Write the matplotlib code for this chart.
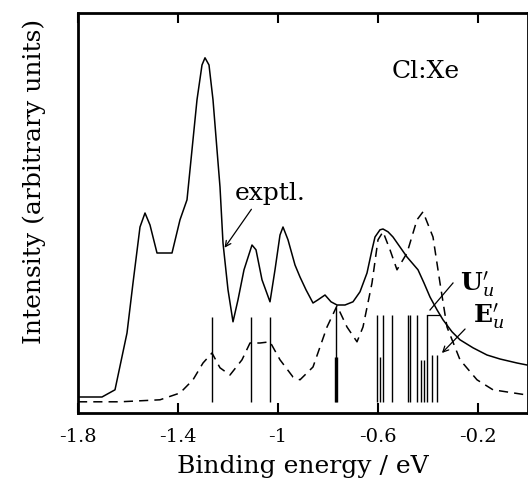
import matplotlib
matplotlib.use("Agg")
import matplotlib.pyplot as plt

plt.rcParams['font.family'] = ['DejaVu Serif']
plt.rcParams['mathtext.fontset'] = 'dejavuserif'

# experimental spectrum (solid)
expt_e = [-1.800, -1.704, -1.652, -1.604, -1.580, -1.552, -1.532, -1.512, -1.484, -1.424,
          -1.392, -1.364, -1.344, -1.324, -1.304, -1.292, -1.276, -1.260, -1.244, -1.232,
          -1.220, -1.200, -1.180, -1.160, -1.136, -1.104, -1.088, -1.064, -1.032, -1.012,
          -0.992, -0.980, -0.960, -0.932, -0.912, -0.888, -0.860, -0.840, -0.812, -0.788,
          -0.764, -0.732, -0.700, -0.672, -0.644, -0.624, -0.612, -0.592, -0.580, -0.560,
          -0.540, -0.512, -0.484, -0.440, -0.416, -0.392, -0.364, -0.340, -0.304, -0.272,
          -0.220, -0.164, -0.112, -0.044, -0.004]
expt_i = [0.040, 0.040, 0.058, 0.200, 0.325, 0.465, 0.500, 0.470, 0.400, 0.400,
          0.483, 0.533, 0.658, 0.783, 0.870, 0.888, 0.870, 0.783, 0.658, 0.565,
          0.425, 0.308, 0.228, 0.283, 0.358, 0.420, 0.408, 0.333, 0.278, 0.358,
          0.445, 0.465, 0.433, 0.370, 0.340, 0.308, 0.275, 0.283, 0.295, 0.278,
          0.270, 0.270, 0.278, 0.303, 0.350, 0.408, 0.440, 0.458, 0.460, 0.453,
          0.440, 0.415, 0.390, 0.358, 0.325, 0.290, 0.258, 0.233, 0.203, 0.183,
          0.163, 0.145, 0.135, 0.125, 0.120]

# calculated spectrum (dashed)
calc_e = [-1.800, -1.632, -1.472, -1.392, -1.340, -1.300, -1.264, -1.232, -1.192, -1.144,
          -1.112, -1.072, -1.032, -0.992, -0.940, -0.912, -0.860, -0.804, -0.764, -0.724,
          -0.684, -0.660, -0.624, -0.600, -0.580, -0.552, -0.524, -0.484, -0.444, -0.420,
          -0.380, -0.352, -0.324, -0.272, -0.204, -0.140, -0.004]
calc_i = [0.028, 0.028, 0.033, 0.050, 0.083, 0.125, 0.150, 0.113, 0.095, 0.133,
          0.175, 0.175, 0.178, 0.133, 0.090, 0.083, 0.115, 0.215, 0.268, 0.215,
          0.178, 0.215, 0.325, 0.433, 0.453, 0.408, 0.358, 0.400, 0.483, 0.503,
          0.440, 0.325, 0.215, 0.133, 0.083, 0.058, 0.045]

# stick spectrum
stick_e = [-1.264, -1.108, -1.032, -0.772, -0.768, -0.764, -0.604, -0.592, -0.580,
           -0.544, -0.480, -0.472, -0.444, -0.428, -0.416, -0.404, -0.384, -0.364]
stick_h = [0.240, 0.240, 0.240, 0.140, 0.265, 0.140, 0.245, 0.140, 0.245,
           0.245, 0.245, 0.245, 0.245, 0.133, 0.133, 0.245, 0.145, 0.145]
stick_base = 0.028

xticks = [-1.8, -1.4, -1.0, -0.6, -0.2]
xtick_labels = ['-1.8', '-1.4', '-1', '-0.6', '-0.2']

fig = plt.figure(figsize=(5.28, 4.9), dpi=100)
ax = fig.add_axes([78 / 528, 77 / 490, 450 / 528, 400 / 490])

ax.plot(expt_e, expt_i, color='black', lw=1.1)
ax.plot(calc_e, calc_i, color='black', lw=1.1, linestyle=(0, (6, 4)))
ax.vlines(stick_e, stick_base, stick_h, color='black', lw=1.0)

ax.set_xlim(-1.8, 0.0)
ax.set_ylim(0, 1)
ax.set_xticks(xticks)
ax.set_xticklabels(xtick_labels, fontsize=14)
ax.set_yticks([])
ax.tick_params(axis='x', direction='in', top=True, length=7, width=1.5, pad=11)
for s in ax.spines.values():
    s.set_linewidth(2.0)

ax.set_xlabel('Binding energy / eV', fontsize=18, labelpad=6)
ax.set_ylabel('Intensity (arbitrary units)', fontsize=18)
ax.yaxis.set_label_coords(-0.072, 0.58)

ax.text(-0.545, 0.8375, 'Cl:Xe', fontsize=18)
ax.text(-1.172, 0.533, 'exptl.', fontsize=18)
ax.annotate('', xy=(-1.22, 0.4075), xytext=(-1.10, 0.515),
            arrowprops=dict(arrowstyle='->', lw=0.9, color='black'))

ax.text(-0.272, 0.3075, r"$\mathbf{U}_u^{\prime}$", fontsize=18)
ax.plot([-0.30, -0.392], [0.325, 0.2575], color='black', lw=0.9)
ax.plot([-0.404, -0.352], [0.245, 0.245], color='black', lw=0.9)

ax.text(-0.22, 0.2275, r"$\mathbf{E}_u^{\prime}$", fontsize=18)
ax.annotate('', xy=(-0.352, 0.145), xytext=(-0.244, 0.215),
            arrowprops=dict(arrowstyle='->', lw=0.9, color='black'))

fig.savefig('out.png', dpi=100)
